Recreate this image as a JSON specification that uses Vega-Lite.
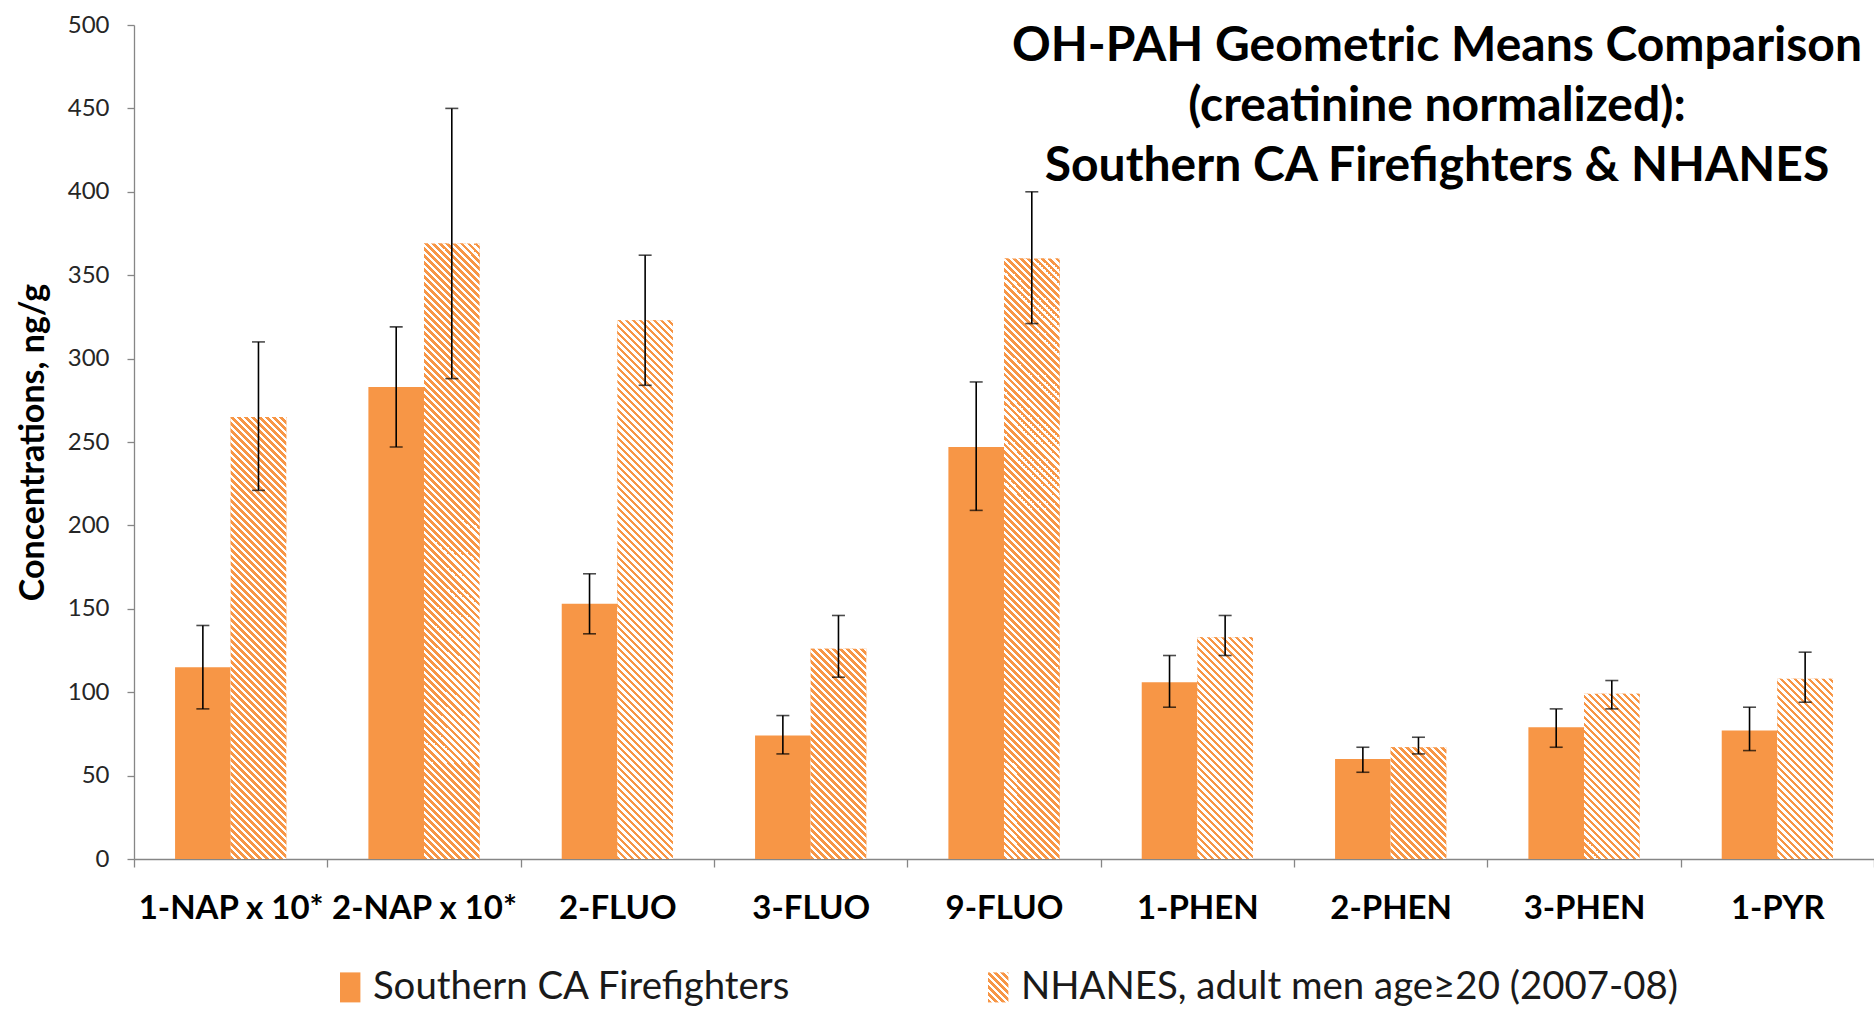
{
"$schema": "https://vega.github.io/schema/vega-lite/v6.json",
"width": 1740, "height": 834,
"autosize": "none",
"padding": {"left": 134, "top": 25, "right": 0, "bottom": 171},
"background": "white",
"params": [{"name": "hs", "value": [
{"offset":0,"color":"#F79646"},{"offset":0.005,"color":"#F79646"},{"offset":0.005,"color":"#FFF"},{"offset":0.01,"color":"#FFF"},
{"offset":0.01,"color":"#F79646"},{"offset":0.015,"color":"#F79646"},{"offset":0.015,"color":"#FFF"},{"offset":0.02,"color":"#FFF"},
{"offset":0.02,"color":"#F79646"},{"offset":0.025,"color":"#F79646"},{"offset":0.025,"color":"#FFF"},{"offset":0.03,"color":"#FFF"},
{"offset":0.03,"color":"#F79646"},{"offset":0.035,"color":"#F79646"},{"offset":0.035,"color":"#FFF"},{"offset":0.04,"color":"#FFF"},
{"offset":0.04,"color":"#F79646"},{"offset":0.045,"color":"#F79646"},{"offset":0.045,"color":"#FFF"},{"offset":0.05,"color":"#FFF"},
{"offset":0.05,"color":"#F79646"},{"offset":0.055,"color":"#F79646"},{"offset":0.055,"color":"#FFF"},{"offset":0.06,"color":"#FFF"},
{"offset":0.06,"color":"#F79646"},{"offset":0.065,"color":"#F79646"},{"offset":0.065,"color":"#FFF"},{"offset":0.07,"color":"#FFF"},
{"offset":0.07,"color":"#F79646"},{"offset":0.075,"color":"#F79646"},{"offset":0.075,"color":"#FFF"},{"offset":0.08,"color":"#FFF"},
{"offset":0.08,"color":"#F79646"},{"offset":0.085,"color":"#F79646"},{"offset":0.085,"color":"#FFF"},{"offset":0.09,"color":"#FFF"},
{"offset":0.09,"color":"#F79646"},{"offset":0.095,"color":"#F79646"},{"offset":0.095,"color":"#FFF"},{"offset":0.1,"color":"#FFF"},
{"offset":0.1,"color":"#F79646"},{"offset":0.105,"color":"#F79646"},{"offset":0.105,"color":"#FFF"},{"offset":0.11,"color":"#FFF"},
{"offset":0.11,"color":"#F79646"},{"offset":0.115,"color":"#F79646"},{"offset":0.115,"color":"#FFF"},{"offset":0.12,"color":"#FFF"},
{"offset":0.12,"color":"#F79646"},{"offset":0.125,"color":"#F79646"},{"offset":0.125,"color":"#FFF"},{"offset":0.13,"color":"#FFF"},
{"offset":0.13,"color":"#F79646"},{"offset":0.135,"color":"#F79646"},{"offset":0.135,"color":"#FFF"},{"offset":0.14,"color":"#FFF"},
{"offset":0.14,"color":"#F79646"},{"offset":0.145,"color":"#F79646"},{"offset":0.145,"color":"#FFF"},{"offset":0.15,"color":"#FFF"},
{"offset":0.15,"color":"#F79646"},{"offset":0.155,"color":"#F79646"},{"offset":0.155,"color":"#FFF"},{"offset":0.16,"color":"#FFF"},
{"offset":0.16,"color":"#F79646"},{"offset":0.165,"color":"#F79646"},{"offset":0.165,"color":"#FFF"},{"offset":0.17,"color":"#FFF"},
{"offset":0.17,"color":"#F79646"},{"offset":0.175,"color":"#F79646"},{"offset":0.175,"color":"#FFF"},{"offset":0.18,"color":"#FFF"},
{"offset":0.18,"color":"#F79646"},{"offset":0.185,"color":"#F79646"},{"offset":0.185,"color":"#FFF"},{"offset":0.19,"color":"#FFF"},
{"offset":0.19,"color":"#F79646"},{"offset":0.195,"color":"#F79646"},{"offset":0.195,"color":"#FFF"},{"offset":0.2,"color":"#FFF"},
{"offset":0.2,"color":"#F79646"},{"offset":0.205,"color":"#F79646"},{"offset":0.205,"color":"#FFF"},{"offset":0.21,"color":"#FFF"},
{"offset":0.21,"color":"#F79646"},{"offset":0.215,"color":"#F79646"},{"offset":0.215,"color":"#FFF"},{"offset":0.22,"color":"#FFF"},
{"offset":0.22,"color":"#F79646"},{"offset":0.225,"color":"#F79646"},{"offset":0.225,"color":"#FFF"},{"offset":0.23,"color":"#FFF"},
{"offset":0.23,"color":"#F79646"},{"offset":0.235,"color":"#F79646"},{"offset":0.235,"color":"#FFF"},{"offset":0.24,"color":"#FFF"},
{"offset":0.24,"color":"#F79646"},{"offset":0.245,"color":"#F79646"},{"offset":0.245,"color":"#FFF"},{"offset":0.25,"color":"#FFF"},
{"offset":0.25,"color":"#F79646"},{"offset":0.255,"color":"#F79646"},{"offset":0.255,"color":"#FFF"},{"offset":0.26,"color":"#FFF"},
{"offset":0.26,"color":"#F79646"},{"offset":0.265,"color":"#F79646"},{"offset":0.265,"color":"#FFF"},{"offset":0.27,"color":"#FFF"},
{"offset":0.27,"color":"#F79646"},{"offset":0.275,"color":"#F79646"},{"offset":0.275,"color":"#FFF"},{"offset":0.28,"color":"#FFF"},
{"offset":0.28,"color":"#F79646"},{"offset":0.285,"color":"#F79646"},{"offset":0.285,"color":"#FFF"},{"offset":0.29,"color":"#FFF"},
{"offset":0.29,"color":"#F79646"},{"offset":0.295,"color":"#F79646"},{"offset":0.295,"color":"#FFF"},{"offset":0.3,"color":"#FFF"},
{"offset":0.3,"color":"#F79646"},{"offset":0.305,"color":"#F79646"},{"offset":0.305,"color":"#FFF"},{"offset":0.31,"color":"#FFF"},
{"offset":0.31,"color":"#F79646"},{"offset":0.315,"color":"#F79646"},{"offset":0.315,"color":"#FFF"},{"offset":0.32,"color":"#FFF"},
{"offset":0.32,"color":"#F79646"},{"offset":0.325,"color":"#F79646"},{"offset":0.325,"color":"#FFF"},{"offset":0.33,"color":"#FFF"},
{"offset":0.33,"color":"#F79646"},{"offset":0.335,"color":"#F79646"},{"offset":0.335,"color":"#FFF"},{"offset":0.34,"color":"#FFF"},
{"offset":0.34,"color":"#F79646"},{"offset":0.345,"color":"#F79646"},{"offset":0.345,"color":"#FFF"},{"offset":0.35,"color":"#FFF"},
{"offset":0.35,"color":"#F79646"},{"offset":0.355,"color":"#F79646"},{"offset":0.355,"color":"#FFF"},{"offset":0.36,"color":"#FFF"},
{"offset":0.36,"color":"#F79646"},{"offset":0.365,"color":"#F79646"},{"offset":0.365,"color":"#FFF"},{"offset":0.37,"color":"#FFF"},
{"offset":0.37,"color":"#F79646"},{"offset":0.375,"color":"#F79646"},{"offset":0.375,"color":"#FFF"},{"offset":0.38,"color":"#FFF"},
{"offset":0.38,"color":"#F79646"},{"offset":0.385,"color":"#F79646"},{"offset":0.385,"color":"#FFF"},{"offset":0.39,"color":"#FFF"},
{"offset":0.39,"color":"#F79646"},{"offset":0.395,"color":"#F79646"},{"offset":0.395,"color":"#FFF"},{"offset":0.4,"color":"#FFF"},
{"offset":0.4,"color":"#F79646"},{"offset":0.405,"color":"#F79646"},{"offset":0.405,"color":"#FFF"},{"offset":0.41,"color":"#FFF"},
{"offset":0.41,"color":"#F79646"},{"offset":0.415,"color":"#F79646"},{"offset":0.415,"color":"#FFF"},{"offset":0.42,"color":"#FFF"},
{"offset":0.42,"color":"#F79646"},{"offset":0.425,"color":"#F79646"},{"offset":0.425,"color":"#FFF"},{"offset":0.43,"color":"#FFF"},
{"offset":0.43,"color":"#F79646"},{"offset":0.435,"color":"#F79646"},{"offset":0.435,"color":"#FFF"},{"offset":0.44,"color":"#FFF"},
{"offset":0.44,"color":"#F79646"},{"offset":0.445,"color":"#F79646"},{"offset":0.445,"color":"#FFF"},{"offset":0.45,"color":"#FFF"},
{"offset":0.45,"color":"#F79646"},{"offset":0.455,"color":"#F79646"},{"offset":0.455,"color":"#FFF"},{"offset":0.46,"color":"#FFF"},
{"offset":0.46,"color":"#F79646"},{"offset":0.465,"color":"#F79646"},{"offset":0.465,"color":"#FFF"},{"offset":0.47,"color":"#FFF"},
{"offset":0.47,"color":"#F79646"},{"offset":0.475,"color":"#F79646"},{"offset":0.475,"color":"#FFF"},{"offset":0.48,"color":"#FFF"},
{"offset":0.48,"color":"#F79646"},{"offset":0.485,"color":"#F79646"},{"offset":0.485,"color":"#FFF"},{"offset":0.49,"color":"#FFF"},
{"offset":0.49,"color":"#F79646"},{"offset":0.495,"color":"#F79646"},{"offset":0.495,"color":"#FFF"},{"offset":0.5,"color":"#FFF"},
{"offset":0.5,"color":"#F79646"},{"offset":0.505,"color":"#F79646"},{"offset":0.505,"color":"#FFF"},{"offset":0.51,"color":"#FFF"},
{"offset":0.51,"color":"#F79646"},{"offset":0.515,"color":"#F79646"},{"offset":0.515,"color":"#FFF"},{"offset":0.52,"color":"#FFF"},
{"offset":0.52,"color":"#F79646"},{"offset":0.525,"color":"#F79646"},{"offset":0.525,"color":"#FFF"},{"offset":0.53,"color":"#FFF"},
{"offset":0.53,"color":"#F79646"},{"offset":0.535,"color":"#F79646"},{"offset":0.535,"color":"#FFF"},{"offset":0.54,"color":"#FFF"},
{"offset":0.54,"color":"#F79646"},{"offset":0.545,"color":"#F79646"},{"offset":0.545,"color":"#FFF"},{"offset":0.55,"color":"#FFF"},
{"offset":0.55,"color":"#F79646"},{"offset":0.555,"color":"#F79646"},{"offset":0.555,"color":"#FFF"},{"offset":0.56,"color":"#FFF"},
{"offset":0.56,"color":"#F79646"},{"offset":0.565,"color":"#F79646"},{"offset":0.565,"color":"#FFF"},{"offset":0.57,"color":"#FFF"},
{"offset":0.57,"color":"#F79646"},{"offset":0.575,"color":"#F79646"},{"offset":0.575,"color":"#FFF"},{"offset":0.58,"color":"#FFF"},
{"offset":0.58,"color":"#F79646"},{"offset":0.585,"color":"#F79646"},{"offset":0.585,"color":"#FFF"},{"offset":0.59,"color":"#FFF"},
{"offset":0.59,"color":"#F79646"},{"offset":0.595,"color":"#F79646"},{"offset":0.595,"color":"#FFF"},{"offset":0.6,"color":"#FFF"},
{"offset":0.6,"color":"#F79646"},{"offset":0.605,"color":"#F79646"},{"offset":0.605,"color":"#FFF"},{"offset":0.61,"color":"#FFF"},
{"offset":0.61,"color":"#F79646"},{"offset":0.615,"color":"#F79646"},{"offset":0.615,"color":"#FFF"},{"offset":0.62,"color":"#FFF"},
{"offset":0.62,"color":"#F79646"},{"offset":0.625,"color":"#F79646"},{"offset":0.625,"color":"#FFF"},{"offset":0.63,"color":"#FFF"},
{"offset":0.63,"color":"#F79646"},{"offset":0.635,"color":"#F79646"},{"offset":0.635,"color":"#FFF"},{"offset":0.64,"color":"#FFF"},
{"offset":0.64,"color":"#F79646"},{"offset":0.645,"color":"#F79646"},{"offset":0.645,"color":"#FFF"},{"offset":0.65,"color":"#FFF"},
{"offset":0.65,"color":"#F79646"},{"offset":0.655,"color":"#F79646"},{"offset":0.655,"color":"#FFF"},{"offset":0.66,"color":"#FFF"},
{"offset":0.66,"color":"#F79646"},{"offset":0.665,"color":"#F79646"},{"offset":0.665,"color":"#FFF"},{"offset":0.67,"color":"#FFF"},
{"offset":0.67,"color":"#F79646"},{"offset":0.675,"color":"#F79646"},{"offset":0.675,"color":"#FFF"},{"offset":0.68,"color":"#FFF"},
{"offset":0.68,"color":"#F79646"},{"offset":0.685,"color":"#F79646"},{"offset":0.685,"color":"#FFF"},{"offset":0.69,"color":"#FFF"},
{"offset":0.69,"color":"#F79646"},{"offset":0.695,"color":"#F79646"},{"offset":0.695,"color":"#FFF"},{"offset":0.7,"color":"#FFF"},
{"offset":0.7,"color":"#F79646"},{"offset":0.705,"color":"#F79646"},{"offset":0.705,"color":"#FFF"},{"offset":0.71,"color":"#FFF"},
{"offset":0.71,"color":"#F79646"},{"offset":0.715,"color":"#F79646"},{"offset":0.715,"color":"#FFF"},{"offset":0.72,"color":"#FFF"},
{"offset":0.72,"color":"#F79646"},{"offset":0.725,"color":"#F79646"},{"offset":0.725,"color":"#FFF"},{"offset":0.73,"color":"#FFF"},
{"offset":0.73,"color":"#F79646"},{"offset":0.735,"color":"#F79646"},{"offset":0.735,"color":"#FFF"},{"offset":0.74,"color":"#FFF"},
{"offset":0.74,"color":"#F79646"},{"offset":0.745,"color":"#F79646"},{"offset":0.745,"color":"#FFF"},{"offset":0.75,"color":"#FFF"},
{"offset":0.75,"color":"#F79646"},{"offset":0.755,"color":"#F79646"},{"offset":0.755,"color":"#FFF"},{"offset":0.76,"color":"#FFF"},
{"offset":0.76,"color":"#F79646"},{"offset":0.765,"color":"#F79646"},{"offset":0.765,"color":"#FFF"},{"offset":0.77,"color":"#FFF"},
{"offset":0.77,"color":"#F79646"},{"offset":0.775,"color":"#F79646"},{"offset":0.775,"color":"#FFF"},{"offset":0.78,"color":"#FFF"},
{"offset":0.78,"color":"#F79646"},{"offset":0.785,"color":"#F79646"},{"offset":0.785,"color":"#FFF"},{"offset":0.79,"color":"#FFF"},
{"offset":0.79,"color":"#F79646"},{"offset":0.795,"color":"#F79646"},{"offset":0.795,"color":"#FFF"},{"offset":0.8,"color":"#FFF"},
{"offset":0.8,"color":"#F79646"},{"offset":0.805,"color":"#F79646"},{"offset":0.805,"color":"#FFF"},{"offset":0.81,"color":"#FFF"},
{"offset":0.81,"color":"#F79646"},{"offset":0.815,"color":"#F79646"},{"offset":0.815,"color":"#FFF"},{"offset":0.82,"color":"#FFF"},
{"offset":0.82,"color":"#F79646"},{"offset":0.825,"color":"#F79646"},{"offset":0.825,"color":"#FFF"},{"offset":0.83,"color":"#FFF"},
{"offset":0.83,"color":"#F79646"},{"offset":0.835,"color":"#F79646"},{"offset":0.835,"color":"#FFF"},{"offset":0.84,"color":"#FFF"},
{"offset":0.84,"color":"#F79646"},{"offset":0.845,"color":"#F79646"},{"offset":0.845,"color":"#FFF"},{"offset":0.85,"color":"#FFF"},
{"offset":0.85,"color":"#F79646"},{"offset":0.855,"color":"#F79646"},{"offset":0.855,"color":"#FFF"},{"offset":0.86,"color":"#FFF"},
{"offset":0.86,"color":"#F79646"},{"offset":0.865,"color":"#F79646"},{"offset":0.865,"color":"#FFF"},{"offset":0.87,"color":"#FFF"},
{"offset":0.87,"color":"#F79646"},{"offset":0.875,"color":"#F79646"},{"offset":0.875,"color":"#FFF"},{"offset":0.88,"color":"#FFF"},
{"offset":0.88,"color":"#F79646"},{"offset":0.885,"color":"#F79646"},{"offset":0.885,"color":"#FFF"},{"offset":0.89,"color":"#FFF"},
{"offset":0.89,"color":"#F79646"},{"offset":0.895,"color":"#F79646"},{"offset":0.895,"color":"#FFF"},{"offset":0.9,"color":"#FFF"},
{"offset":0.9,"color":"#F79646"},{"offset":0.905,"color":"#F79646"},{"offset":0.905,"color":"#FFF"},{"offset":0.91,"color":"#FFF"},
{"offset":0.91,"color":"#F79646"},{"offset":0.915,"color":"#F79646"},{"offset":0.915,"color":"#FFF"},{"offset":0.92,"color":"#FFF"},
{"offset":0.92,"color":"#F79646"},{"offset":0.925,"color":"#F79646"},{"offset":0.925,"color":"#FFF"},{"offset":0.93,"color":"#FFF"},
{"offset":0.93,"color":"#F79646"},{"offset":0.935,"color":"#F79646"},{"offset":0.935,"color":"#FFF"},{"offset":0.94,"color":"#FFF"},
{"offset":0.94,"color":"#F79646"},{"offset":0.945,"color":"#F79646"},{"offset":0.945,"color":"#FFF"},{"offset":0.95,"color":"#FFF"},
{"offset":0.95,"color":"#F79646"},{"offset":0.955,"color":"#F79646"},{"offset":0.955,"color":"#FFF"},{"offset":0.96,"color":"#FFF"},
{"offset":0.96,"color":"#F79646"},{"offset":0.965,"color":"#F79646"},{"offset":0.965,"color":"#FFF"},{"offset":0.97,"color":"#FFF"},
{"offset":0.97,"color":"#F79646"},{"offset":0.975,"color":"#F79646"},{"offset":0.975,"color":"#FFF"},{"offset":0.98,"color":"#FFF"},
{"offset":0.98,"color":"#F79646"},{"offset":0.985,"color":"#F79646"},{"offset":0.985,"color":"#FFF"},{"offset":0.99,"color":"#FFF"},
{"offset":0.99,"color":"#F79646"},{"offset":0.995,"color":"#F79646"},{"offset":0.995,"color":"#FFF"},{"offset":1,"color":"#FFF"}
]}],
"title": {
  "text": ["OH-PAH Geometric Means Comparison", "(creatinine normalized):", "Southern CA Firefighters & NHANES"],
  "orient": "top", "anchor": "end", "frame": "group", "align": "center", "baseline": "top",
  "offset": 0, "dx": -437, "dy": 178,
  "font": "Lato", "fontSize": 48, "fontWeight": "bold", "color": "#000000", "lineHeight": 60
},
"config": {
  "view": {"stroke": null},
  "axisY": {"domainColor": "#868686", "tickColor": "#868686", "tickSize": 7, "domainWidth": 1.3, "tickWidth": 1.3, "grid": false,
            "labelFont": "Lato", "labelFontSize": 24, "labelColor": "#262626", "labelPadding": 18,
            "titleFont": "Lato", "titleFontSize": 34, "titleFontWeight": "bold", "titleColor": "#000000",
            "titleX": -101, "titleY": 417, "titleAngle": -90, "titleBaseline": "middle", "titleAlign": "center"},
  "axisX": {"domainColor": "#868686", "tickColor": "#868686", "tickSize": 8, "domainWidth": 1.3, "tickWidth": 1.3, "tickBand": "extent", "grid": false,
            "labelFont": "Lato", "labelFontSize": 33, "labelFontWeight": "bold", "labelColor": "#000000", "labelAngle": 0,
            "labelPadding": 41, "labelBaseline": "middle", "labelOverlap": false, "labelLimit": 400}
},
"data": {"values": [
  {"compound": "1-NAP x 10*", "series": "Southern CA Firefighters", "mean": 115, "lo": 90, "hi": 140},
  {"compound": "1-NAP x 10*", "series": "NHANES, adult men age≥20 (2007-08)", "mean": 265, "lo": 221, "hi": 310},
  {"compound": "2-NAP x 10*", "series": "Southern CA Firefighters", "mean": 283, "lo": 247, "hi": 319},
  {"compound": "2-NAP x 10*", "series": "NHANES, adult men age≥20 (2007-08)", "mean": 369, "lo": 288, "hi": 450},
  {"compound": "2-FLUO", "series": "Southern CA Firefighters", "mean": 153, "lo": 135, "hi": 171},
  {"compound": "2-FLUO", "series": "NHANES, adult men age≥20 (2007-08)", "mean": 323, "lo": 284, "hi": 362},
  {"compound": "3-FLUO", "series": "Southern CA Firefighters", "mean": 74, "lo": 63, "hi": 86},
  {"compound": "3-FLUO", "series": "NHANES, adult men age≥20 (2007-08)", "mean": 126, "lo": 109, "hi": 146},
  {"compound": "9-FLUO", "series": "Southern CA Firefighters", "mean": 247, "lo": 209, "hi": 286},
  {"compound": "9-FLUO", "series": "NHANES, adult men age≥20 (2007-08)", "mean": 360, "lo": 321, "hi": 400},
  {"compound": "1-PHEN", "series": "Southern CA Firefighters", "mean": 106, "lo": 91, "hi": 122},
  {"compound": "1-PHEN", "series": "NHANES, adult men age≥20 (2007-08)", "mean": 133, "lo": 122, "hi": 146},
  {"compound": "2-PHEN", "series": "Southern CA Firefighters", "mean": 60, "lo": 52, "hi": 67},
  {"compound": "2-PHEN", "series": "NHANES, adult men age≥20 (2007-08)", "mean": 67, "lo": 63, "hi": 73},
  {"compound": "3-PHEN", "series": "Southern CA Firefighters", "mean": 79, "lo": 67, "hi": 90},
  {"compound": "3-PHEN", "series": "NHANES, adult men age≥20 (2007-08)", "mean": 99, "lo": 90, "hi": 107},
  {"compound": "1-PYR", "series": "Southern CA Firefighters", "mean": 77, "lo": 65, "hi": 91},
  {"compound": "1-PYR", "series": "NHANES, adult men age≥20 (2007-08)", "mean": 108, "lo": 94, "hi": 124}
]},
"layer": [
  {
    "mark": {"type": "bar"},
    "encoding": {
      "x": {"field": "compound", "type": "nominal", "title": null,
            "scale": {"domain": ["1-NAP x 10*", "2-NAP x 10*", "2-FLUO", "3-FLUO", "9-FLUO", "1-PHEN", "2-PHEN", "3-PHEN", "1-PYR"], "paddingInner": 0, "paddingOuter": 0}},
      "xOffset": {"field": "series", "type": "nominal",
            "scale": {"domain": ["Southern CA Firefighters", "NHANES, adult men age≥20 (2007-08)"], "paddingInner": 0, "paddingOuter": 0.7385}},
      "y": {"field": "mean", "type": "quantitative", "stack": null, "title": "Concentrations, ng/g",
            "scale": {"domain": [0, 500], "nice": false},
            "axis": {"values": [0, 50, 100, 150, 200, 250, 300, 350, 400, 450, 500]}},
      "color": {"field": "series", "type": "nominal",
            "scale": {"domain": ["Southern CA Firefighters", "NHANES, adult men age≥20 (2007-08)"],
                      "range": ["#F79646", {"expr": "{gradient: 'linear', x1: 0, y1: 1, x2: 10.85, y2: -14.955, stops: hs}"}]},
            "legend": {"orient": "none", "legendX": 197, "legendY": 943, "direction": "horizontal", "title": null,
                       "symbolType": "M-0.68,-1H0.68V1H-0.68Z", "symbolSize": 900, "symbolStrokeWidth": 0,
                       "labelFont": "Lato", "labelFontSize": 38.4, "labelColor": "#1a1a1a", "labelOffset": 3.5, "labelLimit": 1000,
                       "columnPadding": 188, "padding": 0}}
    }
  },
  {
    "transform": [{"filter": "datum.series !== 'Southern CA Firefighters'"}],
    "mark": {"type": "bar", "fill": {"expr": "{gradient: 'linear', x1: 0, y1: 1, x2: 700*bandwidth('xOffset')/(bandwidth('xOffset')*bandwidth('xOffset')+(scale('y',0)-scale('y',datum.mean))*(scale('y',0)-scale('y',datum.mean))), y2: 1-700*(scale('y',0)-scale('y',datum.mean))/(bandwidth('xOffset')*bandwidth('xOffset')+(scale('y',0)-scale('y',datum.mean))*(scale('y',0)-scale('y',datum.mean))), stops: hs}"}},
    "encoding": {
      "x": {"field": "compound", "type": "nominal", "title": null},
      "xOffset": {"field": "series", "type": "nominal"},
      "y": {"field": "mean", "type": "quantitative", "stack": null, "title": "Concentrations, ng/g"}
    }
  },
  {
    "mark": {"type": "rule", "color": "#000000", "strokeWidth": 1.6},
    "encoding": {
      "x": {"field": "compound", "type": "nominal", "title": null},
      "xOffset": {"field": "series", "type": "nominal"},
      "y": {"field": "lo", "type": "quantitative", "title": "Concentrations, ng/g"},
      "y2": {"field": "hi"}
    }
  },
  {
    "mark": {"type": "tick", "color": "#000000", "size": 13, "thickness": 1.6},
    "encoding": {
      "x": {"field": "compound", "type": "nominal", "title": null},
      "xOffset": {"field": "series", "type": "nominal"},
      "y": {"field": "lo", "type": "quantitative", "title": "Concentrations, ng/g"}
    }
  },
  {
    "mark": {"type": "tick", "color": "#000000", "size": 13, "thickness": 1.6},
    "encoding": {
      "x": {"field": "compound", "type": "nominal", "title": null},
      "xOffset": {"field": "series", "type": "nominal"},
      "y": {"field": "hi", "type": "quantitative", "title": "Concentrations, ng/g"}
    }
  }
]
}
